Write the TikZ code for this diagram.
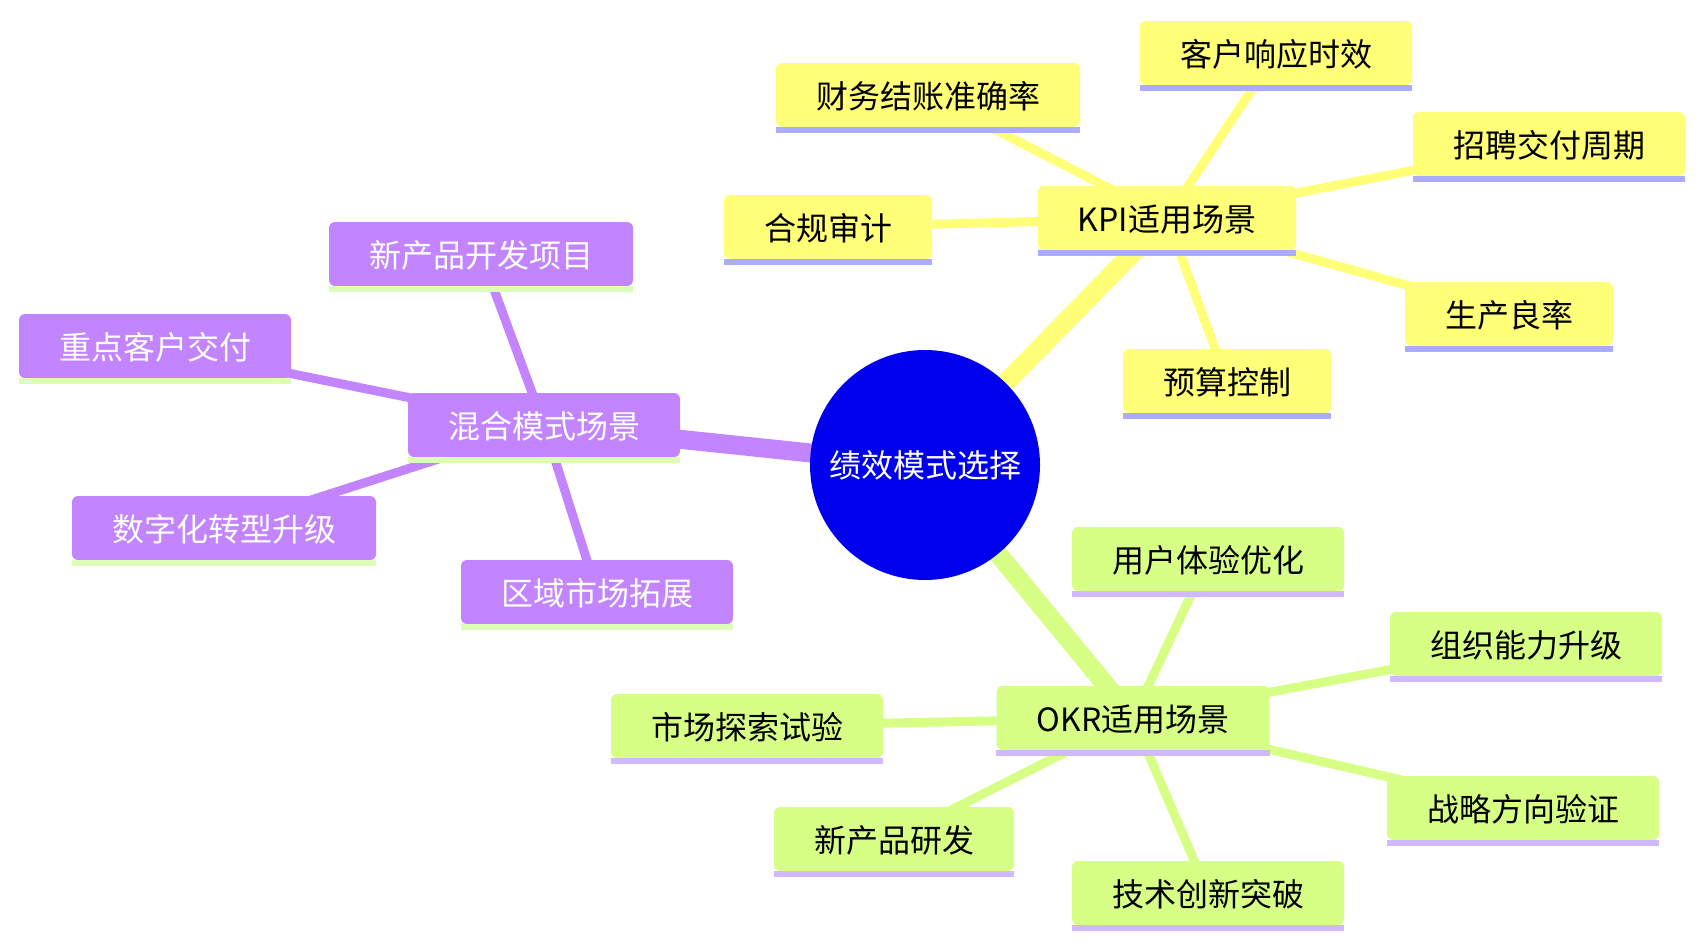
\documentclass[tikz,border=0pt]{standalone}
\usepackage{fontspec}
\setmainfont{Noto Sans CJK SC}
\usepackage{tikz}
\usetikzlibrary{backgrounds}

\definecolor{rootblue}{HTML}{0000EC}
\definecolor{kpiyellow}{HTML}{FFFF78}
\definecolor{kpiline}{HTML}{ABABFF}
\definecolor{okrgreen}{HTML}{D7FF86}
\definecolor{okrline}{HTML}{D0B9FF}
\definecolor{mixpurple}{HTML}{C285FF}
\definecolor{mixline}{HTML}{DCFFB8}

\tikzset{
  topic/.style={rectangle, rounded corners=6pt, minimum height=64pt, inner xsep=40pt, inner ysep=0pt,
    text height=30pt, text depth=3pt, font=\fontsize{32}{38}\selectfont},
  kpibox/.style={topic, fill=kpiyellow, text=black},
  okrbox/.style={topic, fill=okrgreen, text=black},
  mixbox/.style={topic, fill=mixpurple, text=white},
  rootedge/.style={line width=19pt},
  leafedge/.style={line width=9pt},
  underbar/.style={line width=6pt}
}

\begin{document}
\begin{tikzpicture}[x=1pt, y=-1pt]
\useasboundingbox (0,0) rectangle (1705,948);

% centre
\path (925,465) node[circle, fill=rootblue, minimum size=230pt, inner sep=0pt, text=white,
  font=\fontsize{32}{38}\selectfont] (root) {绩效模式选择};

% KPI branch
\path (1167,218) node[kpibox] (kpi) {KPI适用场景};
\path (928,95) node[kpibox] (k1) {财务结账准确率};
\path (1276,53) node[kpibox] (k2) {客户响应时效};
\path (1549,144) node[kpibox] (k3) {招聘交付周期};
\path (828,227) node[kpibox] (k4) {合规审计};
\path (1509,314) node[kpibox] (k5) {生产良率};
\path (1227,381) node[kpibox] (k6) {预算控制};

% mixed branch
\path (544,425) node[mixbox] (mix) {混合模式场景};
\path (481,254) node[mixbox] (m1) {新产品开发项目};
\path (155,346) node[mixbox] (m2) {重点客户交付};
\path (224,528) node[mixbox] (m3) {数字化转型升级};
\path (597,592) node[mixbox] (m4) {区域市场拓展};

% OKR branch
\path (1133,718) node[okrbox] (okr) {OKR适用场景};
\path (1208,559) node[okrbox] (o1) {用户体验优化};
\path (1526,644) node[okrbox] (o2) {组织能力升级};
\path (747,726) node[okrbox] (o3) {市场探索试验};
\path (1523,808) node[okrbox] (o4) {战略方向验证};
\path (894,839) node[okrbox] (o5) {新产品研发};
\path (1208,893) node[okrbox] (o6) {技术创新突破};

% underlines
\foreach \n in {kpi,k1,k2,k3,k4,k5,k6}
  \draw[underbar, kpiline] ([yshift=-3pt]\n.south west) -- ([yshift=-3pt]\n.south east);
\foreach \n in {mix,m1,m2,m3,m4}
  \draw[underbar, mixline] ([yshift=-3pt]\n.south west) -- ([yshift=-3pt]\n.south east);
\foreach \n in {okr,o1,o2,o3,o4,o5,o6}
  \draw[underbar, okrline] ([yshift=-3pt]\n.south west) -- ([yshift=-3pt]\n.south east);

\begin{scope}[on background layer]
\draw[rootedge, kpiyellow] (root.center) -- (kpi.center);
\draw[rootedge, mixpurple] (root.center) -- (mix.center);
\draw[rootedge, okrgreen] (root.center) -- (okr.center);
\foreach \i in {1,...,6}
  \draw[leafedge, kpiyellow] (kpi.center) -- (k\i.center);
\foreach \i in {1,...,4}
  \draw[leafedge, mixpurple] (mix.center) -- (m\i.center);
\foreach \i in {1,...,6}
  \draw[leafedge, okrgreen] (okr.center) -- (o\i.center);
\end{scope}
\end{tikzpicture}
\end{document}
